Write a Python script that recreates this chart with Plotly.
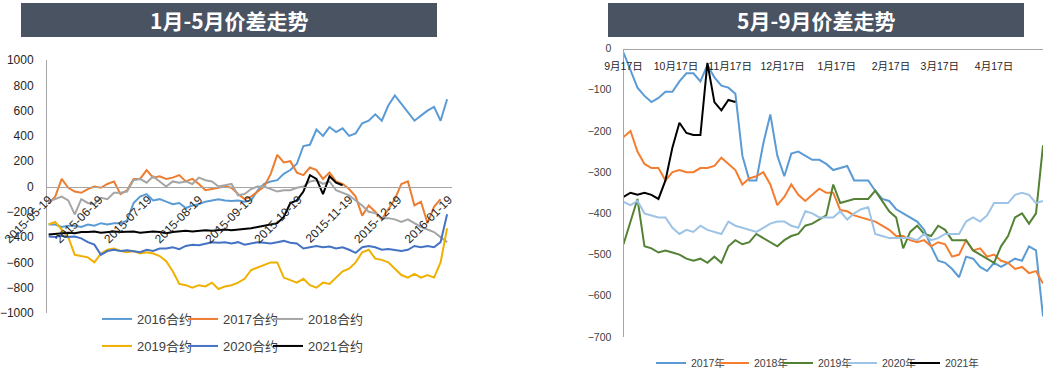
import pandas as pd
import plotly.graph_objects as go

W, H = 1049, 372

# ---------------- Left chart: 1月-5月价差走势 ----------------
left_title = "1月-5月价差走势"
left_start = "2015-05-19"
left_names = ["2016合约", "2017合约", "2018合约", "2019合约", "2020合约", "2021合约"]
left_colors = ["#5B9BD5", "#ED7D31", "#A5A5A5", "#F0B000", "#4472C4", "#000000"]
left_tick_labels = ["2015-05-19", "2015-06-19", "2015-07-19", "2015-08-19", "2015-09-19",
                    "2015-10-19", "2015-11-19", "2015-12-19", "2016-01-19"]

c2016 = [-300, -300, -320, -310, -310, -320, -300, -310, -290, -300, -290, -290, -270, -130, -80, -60,
         -110, -100, -120, -140, -130, -170, -150, -140, -120, -110, -100, -110, -115, -110, -120,
         -110, -30, 20, 40, 50, 100, 130, 180, 320, 330, 450, 400, 470, 430, 460, 400, 420, 500, 520,
         570, 520, 640, 720, 650, 580, 520, 560, 600, 630, 520, 690]
c2017 = [-130, -80, 60, -10, -40, -50, -20, 0, -10, 20, 40, -60, -30, 60, 60, 130, 70, 80, 60, 70, 90,
         40, 60, 20, -30, -20, -10, 0, -10, -60, -100,
         -80, -40, 0, 100, 250, 190, 200, 110, 90, 150, 130, 60, 110, 40, 20, -20, -80, -230, -150,
         -200, -260, -180, -100, 20, 40, -150, -120, -290, -160, -100]
c2018 = [-120, -100, -80, -110, -220, -100, -130, -140, -90, -100, -50, -50, -40, 50, 60, 30, 80, 40, 0,
         40, 30, 40, 20, 70, 50, 40, 0, 10, 20, -70, -60,
         -20, 0, 0, -20, -40, -30, -30, -10, 0, 40, 50, 20, 40, -30, -50, -70, -110, -150, -200, -210,
         -250, -250, -260, -280, -260, -290, -320, -340, -360, -400, -440]
c2019 = [-300, -280, -340, -400, -540, -550, -560, -600, -530, -500, -490, -510, -520, -510, -530, -520,
         -530, -550, -590, -670, -770, -780, -800, -780, -790, -760, -810, -790, -780, -760, -730,
         -660, -640, -620, -600, -600, -720, -740, -760, -730, -780, -800, -760, -770, -720, -670, -650,
         -600, -520, -500, -570, -580, -600, -650, -700, -720, -690, -720, -700, -720, -600, -330]
c2020 = [-395, -400, -390, -400, -395, -410, -440, -460, -540, -510, -500, -510, -505, -510, -520, -500,
         -510, -490, -490, -480, -495, -470, -460, -465, -450, -440, -445, -440, -450, -440, -460,
         -450, -440, -445, -450, -440, -430, -445, -450, -490, -480, -470, -480, -475, -490, -480, -500,
         -525, -480, -470, -480, -500, -495, -500, -510, -500, -470, -480, -470, -480, -440, -220]
c2021 = [-380, -375, -370, -365, -370, -360, -360, -355, -365, -360, -355, -360, -360, -355, -365, -360,
         -355, -360, -370, -360, -355, -350, -355, -350, -345, -350, -345, -340, -345, -340, -340,
         -330, -320, -310, -300, -290, -240, -130, -110, -40, 90, 60, -60, 80, 30, 10]
left_values = [c2016, c2017, c2018, c2019, c2020, c2021]

# ---------------- Right chart: 5月-9月价差走势 ----------------
right_title = "5月-9月价差走势"
right_start = "2016-09-17"
right_names = ["2017年", "2018年", "2019年", "2020年", "2021年"]
right_colors = ["#5B9BD5", "#F47D30", "#548235", "#9DC3E6", "#000000"]
right_tick_dates = ["2016-09-17", "2016-10-17", "2016-11-17", "2016-12-17", "2017-01-17",
                    "2017-02-17", "2017-03-17", "2017-04-17"]
right_tick_labels = ["9月17日", "10月17日", "11月17日", "12月17日", "1月17日", "2月17日", "3月17日", "4月17日"]

y2017 = [-10, -55, -95, -115, -130, -120, -105, -105, -80, -60, -60, -80, -40, -70, -90, -95, -110,
         -260, -320, -320, -230, -160, -260, -310, -255, -250, -260, -270, -270, -280, -295,
         -290, -285, -320, -320, -320, -345, -365, -370, -390, -400, -410, -420, -440, -480, -515, -520,
         -535, -555, -505, -510, -530, -540, -520, -530, -520, -510, -515, -480, -490, -650]
y2018 = [-215, -200, -250, -280, -290, -290, -320, -300, -295, -300, -300, -290, -290, -285, -265, -280,
         -295, -330, -315, -310, -300, -330, -380, -360, -330, -355, -370, -355, -340, -350, -350,
         -392, -395, -405, -410, -415, -420, -430, -440, -455, -455, -465, -470, -465, -480, -470, -475,
         -505, -500, -465, -490, -485, -505, -500, -515, -520, -535, -530, -545, -540, -570]
y2019 = [-475, -420, -365, -480, -485, -495, -490, -495, -500, -510, -515, -510, -520, -505, -520, -480,
         -465, -475, -470, -450, -460, -470, -480, -465, -455, -450, -430, -425, -415, -405, -330,
         -375, -370, -365, -365, -365, -345, -370, -395, -410, -485, -445, -430, -450, -455, -430, -440,
         -465, -465, -465, -490, -500, -510, -520, -480, -455, -410, -400, -425, -400, -235]
y2020 = [-372, -380, -370, -400, -405, -410, -410, -435, -450, -440, -445, -430, -440, -445, -450, -420,
         -430, -435, -440, -445, -435, -425, -420, -420, -430, -435, -395, -400, -410, -410, -410,
         -395, -415, -400, -390, -385, -450, -455, -460, -460, -460, -460, -465, -450, -465, -460, -450,
         -450, -450, -420, -410, -420, -405, -375, -375, -375, -355, -350, -355, -375, -370]
y2021 = [-360, -350, -355, -350, -355, -365, -320, -240, -180, -205, -210, -210, -35, -130, -150, -125, -130]
right_values = [y2017, y2018, y2019, y2020, y2021]

STEP = "4D"
FONT = "Liberation Sans, Noto Sans CJK SC, sans-serif"
CJK = "Noto Sans CJK SC, sans-serif"

# legend entry placement (pixels: text-start x, row centre y)
left_leg_pos = [(137, 319), (223, 319), (308, 319), (137, 346), (223, 346), (308, 346)]
right_leg_pos = [(691, 363), (754, 363), (818, 363), (882, 363), (945, 363)]

fig = go.Figure()
legends = {}
k = 1

def leg_key(n):
    return "legend" if n == 1 else "legend%d" % n

for (name, vals, color), (tx, ty) in zip(zip(left_names, left_values, left_colors), left_leg_pos):
    dates = pd.date_range(left_start, periods=len(vals), freq=STEP)
    key = leg_key(k)
    fig.add_trace(go.Scatter(x=dates, y=vals, name=name, mode="lines",
                             line=dict(color=color, width=2), showlegend=True,
                             xaxis="x", yaxis="y", legend=key))
    legends[key] = dict(x=(tx - 40) / W, y=1 - ty / H, xanchor="left", yanchor="middle",
                        bgcolor="rgba(0,0,0,0)", font=dict(size=13, family=FONT, color="#404040"))
    k += 1

for (name, vals, color), (tx, ty) in zip(zip(right_names, right_values, right_colors), right_leg_pos):
    dates = pd.date_range(right_start, periods=len(vals), freq=STEP)
    key = leg_key(k)
    fig.add_trace(go.Scatter(x=dates, y=vals, name=name, mode="lines",
                             line=dict(color=color, width=2), showlegend=True,
                             xaxis="x2", yaxis="y2", legend=key))
    legends[key] = dict(x=(tx - 40) / W, y=1 - ty / H, xanchor="left", yanchor="middle",
                        bgcolor="rgba(0,0,0,0)", font=dict(size=10.5, family=FONT, color="#404040"))
    k += 1

ly_dom = [1 - 313 / H, 1 - 60 / H]
ry_dom = [1 - 337 / H, 1 - 48.5 / H]
axis_col = "#A6A6A6"
tick_col = "#404040"

fig.update_layout(
    width=W, height=H, autosize=False, showlegend=True,
    margin=dict(l=0, r=0, t=0, b=0, pad=0, autoexpand=False),
    paper_bgcolor="white", plot_bgcolor="white",
    font=dict(family=FONT, color=tick_col),
    hovermode=False,
    xaxis=dict(domain=[47 / W, 452 / W], type="date",
               range=["2015-05-18", "2016-01-21"],
               anchor="free", position=(ly_dom[0] + ly_dom[1]) / 2,
               showline=True, linecolor=axis_col, linewidth=1.5,
               showgrid=False, zeroline=False, ticks="", automargin=False,
               tickvals=left_tick_labels, ticktext=left_tick_labels,
               tickangle=-45, tickfont=dict(size=12, color="#262626")),
    yaxis=dict(domain=ly_dom, range=[-1000, 1000], dtick=200, anchor="x",
               showline=True, linecolor=axis_col, linewidth=1,
               showgrid=False, zeroline=False, ticks="", automargin=False,
               ticklabelstandoff=10, tickfont=dict(size=12, color="#262626")),
    xaxis2=dict(domain=[623.5 / W, 1043 / W], type="date",
                range=["2016-09-17", "2017-05-15"],
                anchor="free", position=ry_dom[1], side="bottom",
                showline=True, linecolor=axis_col, linewidth=1,
                showgrid=False, zeroline=False, ticks="", automargin=False,
                tickvals=right_tick_dates, ticktext=right_tick_labels,
                tickangle=0, ticklabelstandoff=8,
                tickfont=dict(size=10.5, color="#262626")),
    yaxis2=dict(domain=ry_dom, range=[-700, 0], dtick=100, anchor="x2",
                showline=True, linecolor=axis_col, linewidth=1,
                showgrid=False, zeroline=False, ticks="", automargin=False,
                ticklabelstandoff=9, tickfont=dict(size=10.5, color="#404040")),
    shapes=[
        dict(type="rect", xref="paper", yref="paper", x0=21 / W, x1=437 / W,
             y0=1 - 37 / H, y1=1 - 3 / H, fillcolor="#4A5362", line=dict(width=0), layer="below"),
        dict(type="rect", xref="paper", yref="paper", x0=608 / W, x1=1024 / W,
             y0=1 - 37 / H, y1=1 - 3 / H, fillcolor="#4A5362", line=dict(width=0), layer="below"),
    ],
    annotations=[
        dict(text="<b>" + left_title + "</b>", xref="paper", yref="paper", x=229 / W, y=1 - 20 / H,
             showarrow=False, xanchor="center", yanchor="middle",
             font=dict(size=21, color="white", family=CJK)),
        dict(text="<b>" + right_title + "</b>", xref="paper", yref="paper", x=816 / W, y=1 - 20 / H,
             showarrow=False, xanchor="center", yanchor="middle",
             font=dict(size=21, color="white", family=CJK)),
    ],
)
fig.update_layout(**legends)

fig.write_html("out.html",
               config={"displayModeBar": False, "staticPlot": True},
               post_script="document.body.style.margin='0px';document.body.style.overflow='hidden';")
